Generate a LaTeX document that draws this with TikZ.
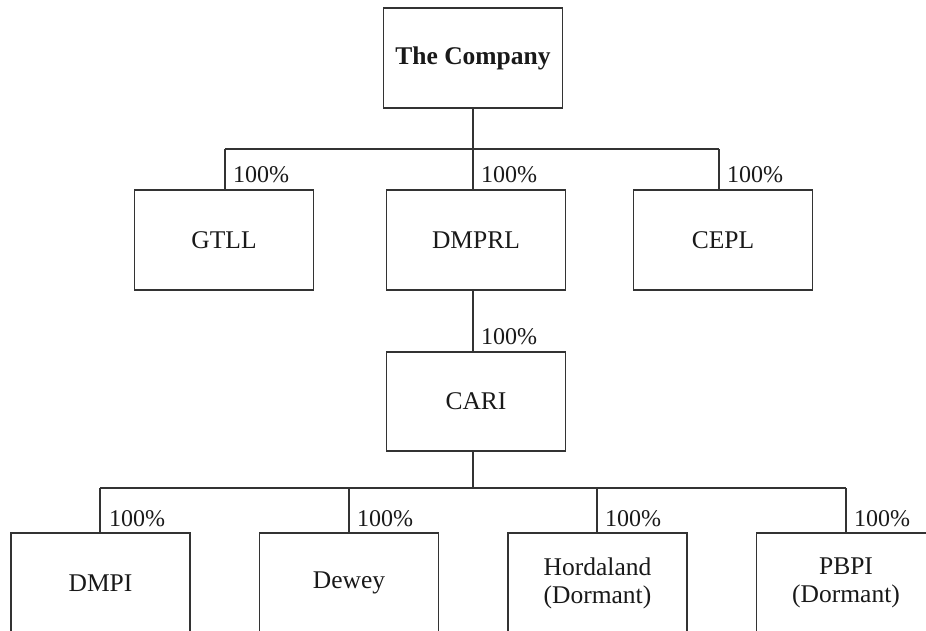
\documentclass[tikz,border=0pt]{standalone}
\usepackage{fontspec}
\setmainfont{Liberation Serif}
\begin{document}
\begin{tikzpicture}[x=1pt,y=-1pt,
  box/.style={draw=black!80, line width=1.2pt, minimum width=179pt, minimum height=100pt, inner sep=0pt, align=center, text=black!90, font=\fontsize{25.5}{28}\selectfont},
  pct/.style={anchor=base west, inner sep=0pt, text=black!90, font=\fontsize{24}{28}\selectfont},
  conn/.style={draw=black!80, line width=1.2pt}]
\useasboundingbox (0,0) rectangle (926,630);
\clip (0,0) rectangle (926,630);
% nodes
\node[box] (top) at (473,58) {\textbf{The Company}};
\node[box] (gtll) at (224,240) {GTLL};
\node[box] (dmprl) at (476,240) {DMPRL};
\node[box] (cepl) at (723,240) {CEPL};
\node[box, minimum height=99pt] (cari) at (476,401.5) {CARI};
\node[box] (dmpi) at (100.5,583) {DMPI};
\node[box] (dewey) at (349,583) {Dewey};
\node[box] (hord) at (597.5,583) {Hordaland\\(Dormant)};
\node[box] (pbpi) at (846,583) {PBPI\\(Dormant)};
% drop points
\coordinate (b1) at (473,149);
\coordinate (dG) at (225,149);
\coordinate (dD) at (473,149);
\coordinate (dC) at (719,149);
\coordinate (b2) at (473,488);
\coordinate (d1) at (100,488);
\coordinate (d2) at (349,488);
\coordinate (d3) at (597,488);
\coordinate (d4) at (846,488);
% connectors
\draw[conn] (top.south -| b1) -- (b1);
\draw[conn] (dG) -- (dC);
\draw[conn] (dG) -- (dG |- gtll.north);
\draw[conn] (dD) -- (dD |- dmprl.north);
\draw[conn] (dC) -- (dC |- cepl.north);
\draw[conn] (dmprl.south -| b1) -- (b1 |- cari.north);
\draw[conn] (cari.south -| b2) -- (b2);
\draw[conn] (d1) -- (d4);
\draw[conn] (d1) -- (d1 |- dmpi.north);
\draw[conn] (d2) -- (d2 |- dewey.north);
\draw[conn] (d3) -- (d3 |- hord.north);
\draw[conn] (d4) -- (d4 |- pbpi.north);
% labels
\node[pct] (p1) at (233,182) {100\%};
\node[pct] (p2) at (481,182) {100\%};
\node[pct] (p3) at (727,182) {100\%};
\node[pct] (p4) at (481,344) {100\%};
\node[pct] (p5) at (109,526) {100\%};
\node[pct] (p6) at (357,526) {100\%};
\node[pct] (p7) at (605,526) {100\%};
\node[pct] (p8) at (854,526) {100\%};
\end{tikzpicture}
\end{document}
